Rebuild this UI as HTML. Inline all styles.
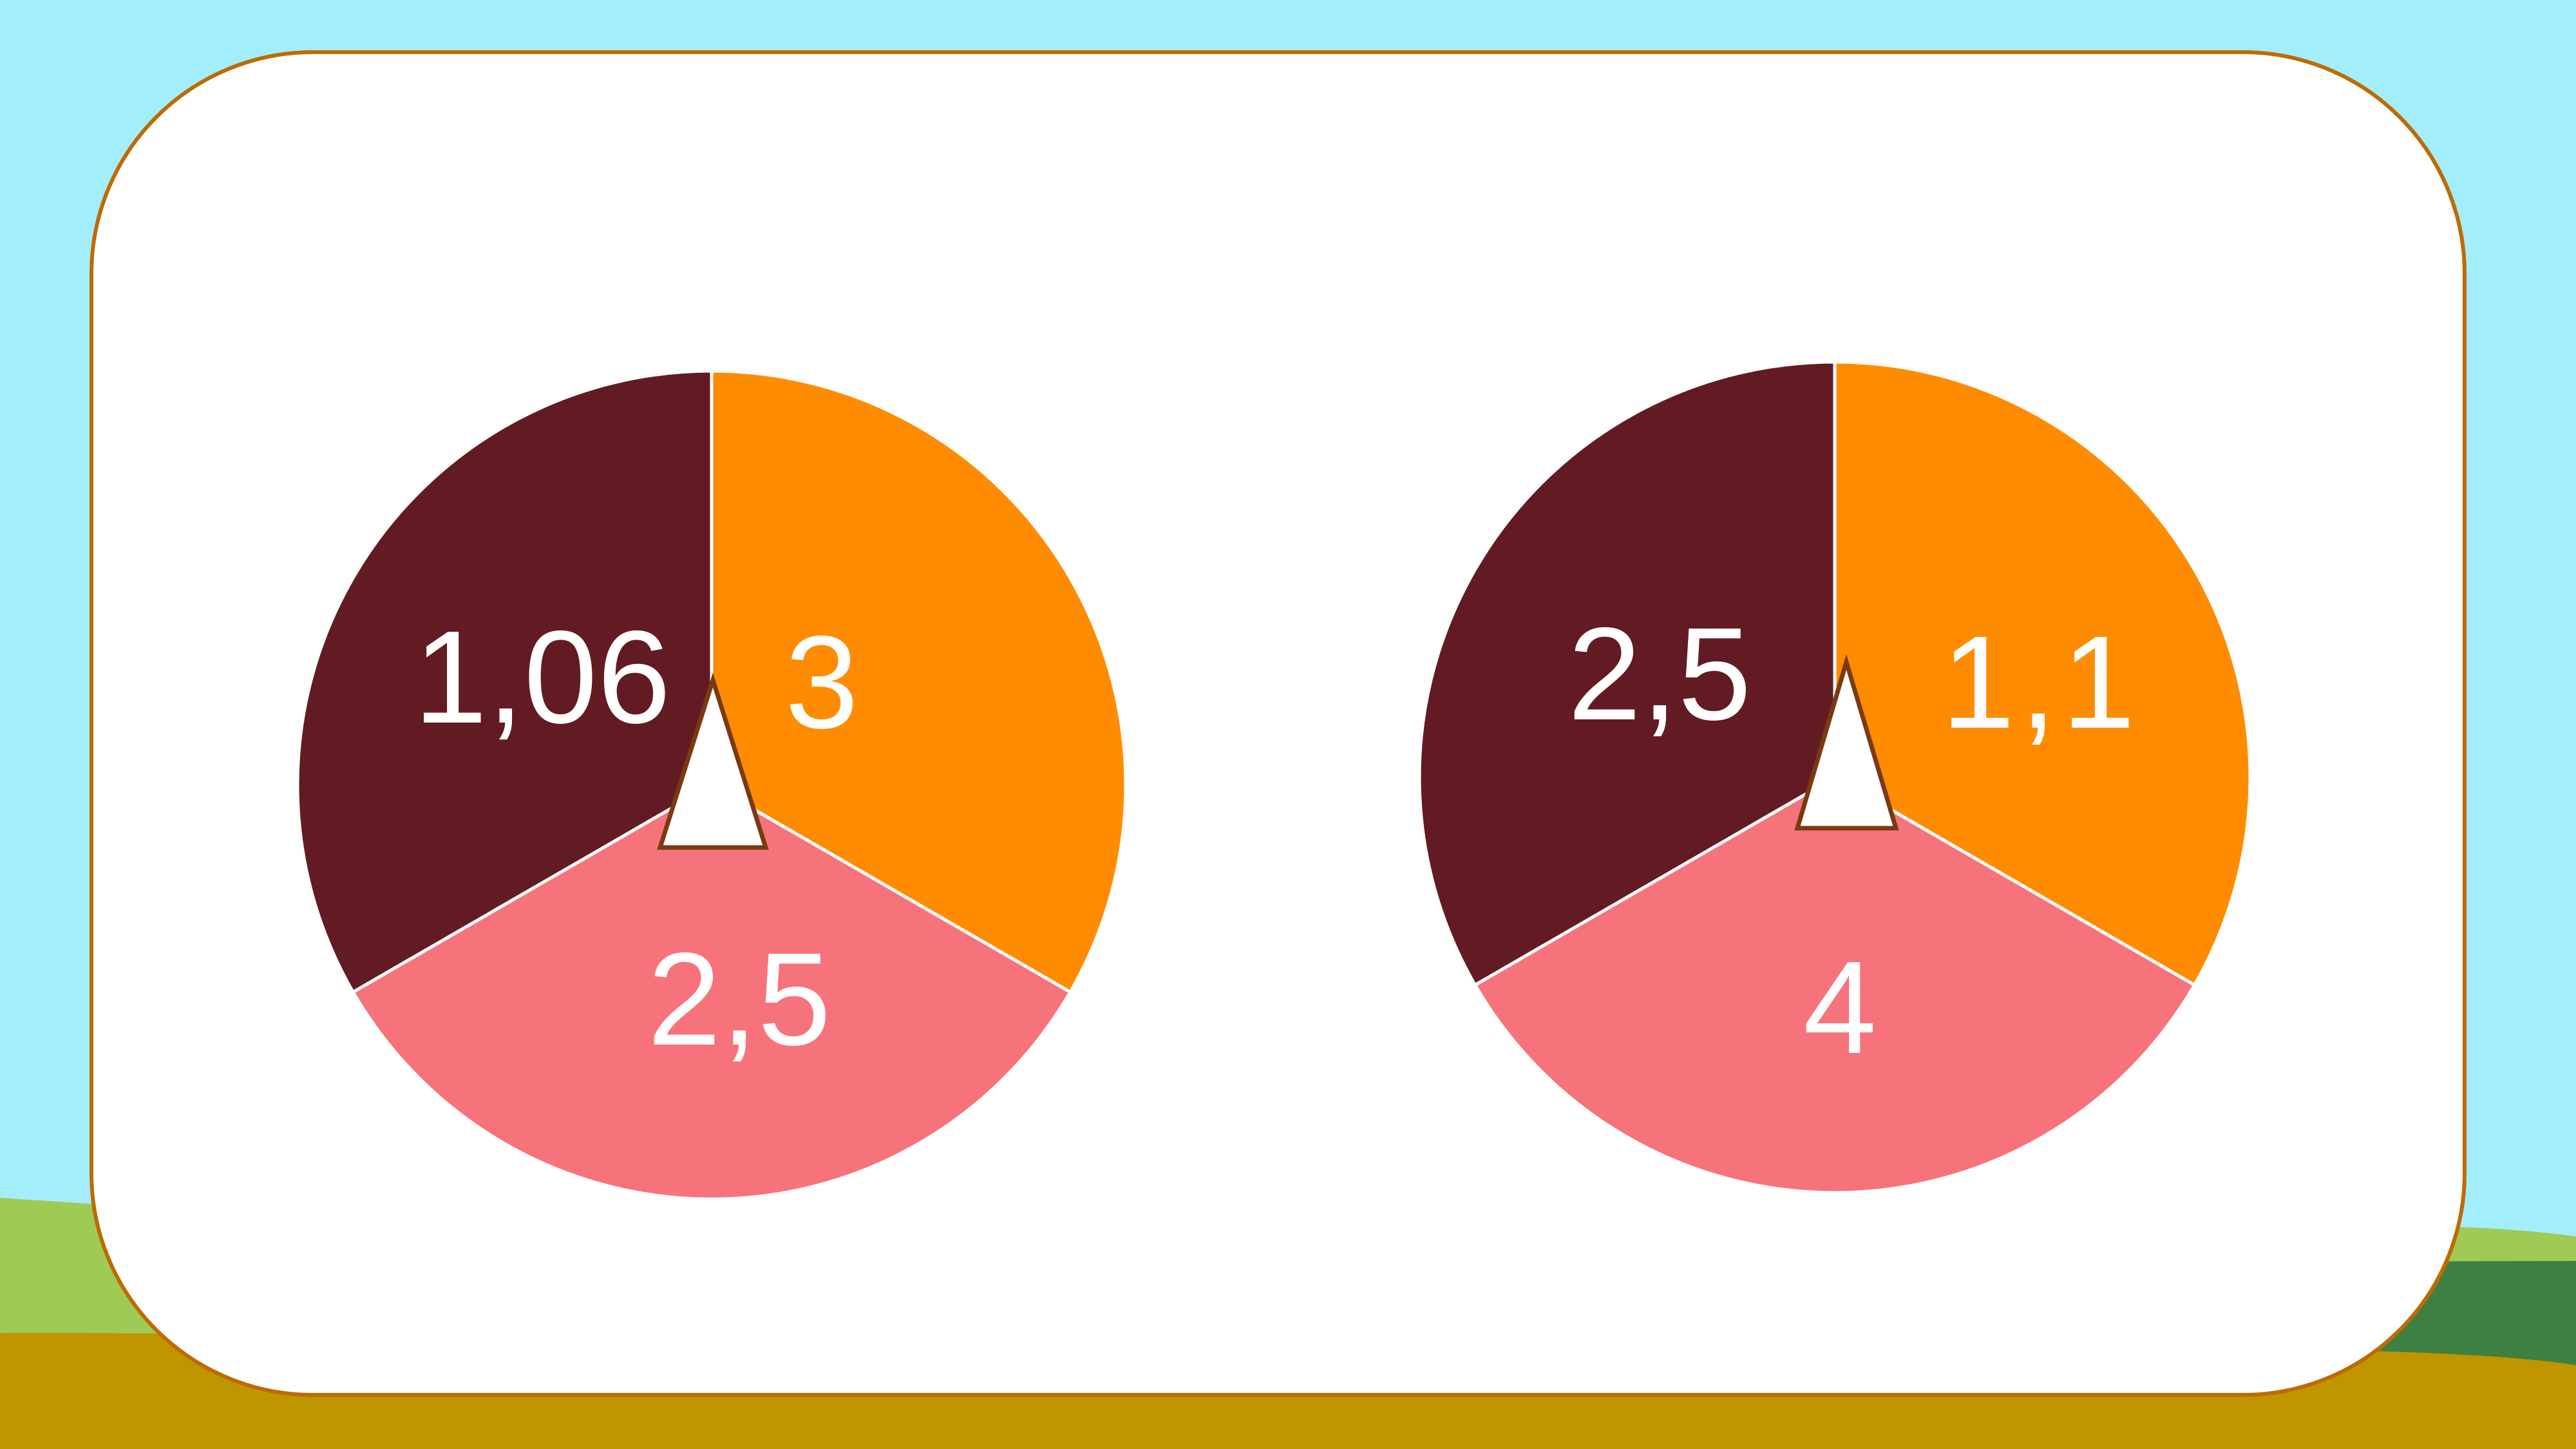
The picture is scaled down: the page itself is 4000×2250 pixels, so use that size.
<!DOCTYPE html>
<html><head><meta charset="utf-8"><style>
html,body{margin:0;padding:0;width:4000px;height:2250px;overflow:hidden;background:#a3eefd}
svg{display:block}
</style></head><body>
<svg id="s" width="4000" height="2250" viewBox="0 0 4000 2250" xmlns="http://www.w3.org/2000/svg">
<rect width="4000" height="2250" fill="#a3eefd"/>
<path d="M3500,1790 C3560,1800 3580,1840 3585,1900 C3560,1930 3520,1930 3500,1920 Z" fill="#3e7f42"/>
<path d="M0,1860 L200,1873 L3300,1897 C3700,1897 3900,1905 4000,1920 L4000,2250 L0,2250 Z" fill="#9eca55"/>
<path d="M3300,1960 L4000,1958 L4000,2250 L3300,2250 Z" fill="#3e7f42"/>
<path d="M0,2070 C300,2068 800,2080 1000,2090 L3000,2090 C3500,2092 3850,2095 4000,2120 L4000,2250 L0,2250 Z" fill="#bf9500"/>
<rect x="142" y="81" width="3685" height="2085" rx="344" ry="344" fill="#fff" stroke="#bf6a02" stroke-width="6"/>
<g id="pies"></g>
</svg>
<script>
const sliceWeights = [1, 1, 1];
const sliceColors = ["#ff8c00", "#f7737b", "#621b22"];
const leftLabels = ["3", "2,5", "1,06"];
const rightLabels = ["1,1", "4", "2,5"];
const NS = "http://www.w3.org/2000/svg";
const g = document.getElementById('pies');
function pie(cx, cy, r, labels, name, ptr, labelPos) {
  const grp = document.createElementNS(NS, 'g');
  
  
  g.appendChild(grp);
  const total = sliceWeights.reduce((a, b) => a + b, 0);
  let a0 = 0;
  sliceWeights.forEach((w, i) => {
    const a1 = a0 + w / total * 2 * Math.PI;
    const x0 = cx + r * Math.sin(a0), y0 = cy - r * Math.cos(a0);
    const x1 = cx + r * Math.sin(a1), y1 = cy - r * Math.cos(a1);
    const p = document.createElementNS(NS, 'path');
    p.setAttribute('d', `M${cx},${cy} L${x0},${y0} A${r},${r} 0 ${a1 - a0 > Math.PI ? 1 : 0} 1 ${x1},${y1} Z`);
    p.setAttribute('fill', sliceColors[i]);
    p.setAttribute('stroke', '#fff');
    p.setAttribute('stroke-width', '5');
    
    
    grp.appendChild(p);
    const t = document.createElementNS(NS, 'text');
    t.setAttribute('x', cx + labelPos[i][0]);
    t.setAttribute('y', cy + labelPos[i][1]);
    t.setAttribute('text-anchor', 'middle');
    t.setAttribute('font-family', 'Liberation Sans, sans-serif');
    t.setAttribute('font-size', '205');
    t.setAttribute('fill', '#fff');
    if (labels[i] === '1,1') t.setAttribute('letter-spacing', '8');
    t.textContent = labels[i];
    
    
    grp.appendChild(t);
    a0 = a1;
  });
  const tri = document.createElementNS(NS, 'polygon');
  tri.setAttribute('points', ptr);
  tri.setAttribute('fill', '#fff');
  tri.setAttribute('stroke', '#7a3a10');
  tri.setAttribute('stroke-width', '7');
  
  
  grp.appendChild(tri);
}
pie(1105, 1219, 643, leftLabels, 'left-spinner', '1107,1056 1189,1316 1025,1316',
    [[171, -89], [43, 403], [-263, -97]]);
pie(2849, 1207, 645, rightLabels, 'right-spinner', '2867,1028 2944,1286 2791,1286',
    [[320, -77], [8, 428], [-272, -90]]);
</script>
</body></html>
